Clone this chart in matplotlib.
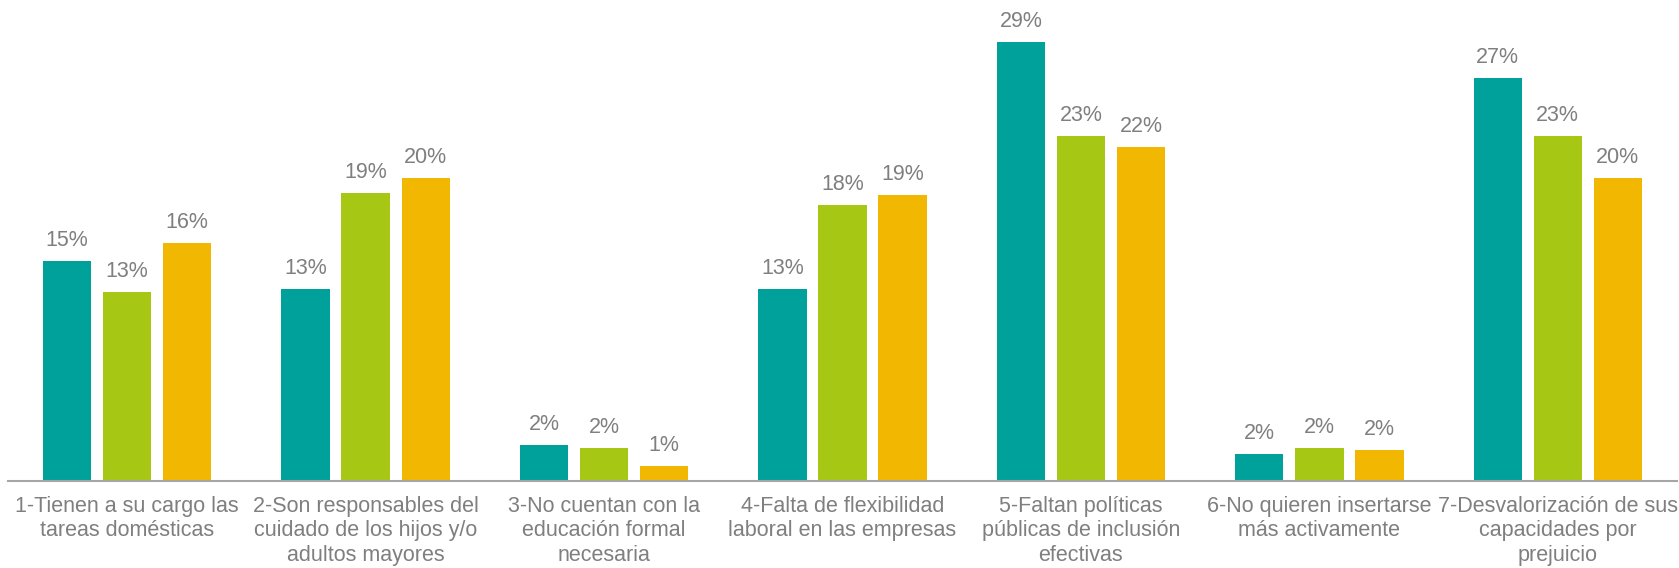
import matplotlib
matplotlib.use("Agg")
import matplotlib.pyplot as plt
import numpy as np

categories = [
    "1-Tienen a su cargo las\ntareas domésticas",
    "2-Son responsables del\ncuidado de los hijos y/o\nadultos mayores",
    "3-No cuentan con la\neducación formal\nnecesaria",
    "4-Falta de flexibilidad\nlaboral en las empresas",
    "5-Faltan políticas\npúblicas de inclusión\nefectivas",
    "6-No quieren insertarse\nmás activamente",
    "7-Desvalorización de sus\ncapacidades por\nprejuicio",
]
serie_a = [14.7, 12.8, 2.4, 12.8, 29.3, 1.8, 26.9]
serie_b = [12.6, 19.2, 2.2, 18.4, 23.0, 2.2, 23.0]
serie_c = [15.9, 20.2, 1.0, 19.1, 22.3, 2.1, 20.2]
labels_a = ["15%", "13%", "2%", "13%", "29%", "2%", "27%"]
labels_b = ["13%", "19%", "2%", "18%", "23%", "2%", "23%"]
labels_c = ["16%", "20%", "1%", "19%", "22%", "2%", "20%"]

colors = ["#00A19A", "#A6C815", "#F2B701"]
text_color = "#7F7F7F"

plt.rcParams['font.family'] = ['Liberation Sans', 'DejaVu Sans']

fig = plt.figure(figsize=(16.79, 5.68), dpi=100)
ax = fig.add_axes([8/1679, (568-481)/568, 1669/1679, 480/568])

x = np.arange(len(categories))
w = 0.203
step = 0.252
series = [serie_a, serie_b, serie_c]
labs = [labels_a, labels_b, labels_c]
for i, (vals, lab) in enumerate(zip(series, labs)):
    pos = x + (i - 1) * step
    bars = ax.bar(pos, vals, width=w, color=colors[i], zorder=2)
    for b, t in zip(bars, lab):
        ax.annotate(t, (b.get_x() + b.get_width()/2, b.get_height()),
                    xytext=(0, 10.5), textcoords="offset points",
                    ha="center", va="baseline", fontsize=15.5, color=text_color)

ax.set_xlim(-0.5, len(categories) - 0.5)
ax.set_ylim(0, 32)
ax.set_xticks(x)
ax.set_xticklabels(categories, fontsize=15.5, color=text_color, linespacing=1.24)
ax.tick_params(axis='x', length=0, pad=10.5)
ax.set_yticks([])
for s in ["top", "right", "left"]:
    ax.spines[s].set_visible(False)
ax.spines["bottom"].set_color("#A6A6A6")
ax.spines["bottom"].set_linewidth(1.5)

fig.savefig("out.png", dpi=100)
